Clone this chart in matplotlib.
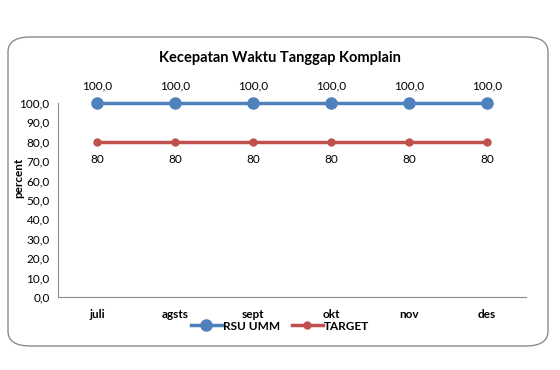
import matplotlib.pyplot as plt
from matplotlib.patches import FancyBboxPatch
from matplotlib.lines import Line2D

months = ["juli", "agsts", "sept", "okt", "nov", "des"]
rsu_umm = [100.0, 100.0, 100.0, 100.0, 100.0, 100.0]
target = [80, 80, 80, 80, 80, 80]
yticks = [0, 10, 20, 30, 40, 50, 60, 70, 80, 90, 100]

plt.rcParams['font.family'] = ['Lato', 'DejaVu Sans']
blue = "#4F81BD"
red = "#C0504D"

fig = plt.figure(figsize=(5.6, 3.7), dpi=100)
fig.patch.set_facecolor("white")

# rounded chart border
border = FancyBboxPatch((8 / 560, 24 / 370), 540 / 560, 309 / 370,
                        boxstyle="round,pad=0,rounding_size=0.04",
                        transform=fig.transFigure, facecolor="none",
                        edgecolor="#8c8c8c", linewidth=1.0, zorder=-1)
fig.patches.append(border)

ax = fig.add_axes([58 / 560, 73 / 370, 468 / 560, 194 / 370])
ax.set_facecolor("none")
x = range(len(months))

ax.plot(x, rsu_umm, color=blue, lw=2.5, marker="o", ms=8, zorder=3, clip_on=False)
ax.plot(x, target, color=red, lw=2.5, marker="o", ms=5, zorder=3, clip_on=False)

for i, v in enumerate(rsu_umm):
    ax.annotate(f"{v:.1f}".replace(".", ","), (i, v), xytext=(0, 8),
                textcoords="offset points", ha="center", va="bottom", fontsize=8.5)
for i, v in enumerate(target):
    ax.annotate(f"{v}", (i, v), xytext=(0, -9),
                textcoords="offset points", ha="center", va="top", fontsize=8.5)

ax.set_xlim(-0.5, len(months) - 0.5)
ax.set_ylim(0, 100)
ax.set_yticks(yticks)
ax.set_yticklabels([f"{t:.1f}".replace(".", ",") for t in yticks], fontsize=8.5)
ax.set_xticks(list(x))
ax.set_xticklabels(months, fontsize=8.5, fontweight="bold")
ax.tick_params(length=0, pad=6)
ax.tick_params(axis="x", pad=9)

for s in ["top", "right"]:
    ax.spines[s].set_visible(False)
ax.spines["left"].set_color("#8c8c8c")
ax.spines["bottom"].set_color("#8c8c8c")

fig.text(280 / 560, (370 - 58) / 370, "Kecepatan Waktu Tanggap Komplain",
         ha="center", va="center", fontsize=10.5, fontweight="bold")
fig.text(19 / 560, (370 - 178) / 370, "percent", rotation=90,
         ha="center", va="center", fontsize=8.5, fontweight="bold")

handles = [Line2D([], [], color=blue, lw=2.5, marker="o", ms=8),
           Line2D([], [], color=red, lw=2.5, marker="o", ms=5)]
leg = fig.legend(handles, ["RSU UMM", "TARGET"], loc="center",
                 bbox_to_anchor=(280 / 560, (370 - 326) / 370), ncol=2,
                 frameon=False, handlelength=2.6, handletextpad=0.1,
                 columnspacing=1.0, prop={"size": 8.5, "weight": "bold"})

fig.savefig("out.png", dpi=100)
